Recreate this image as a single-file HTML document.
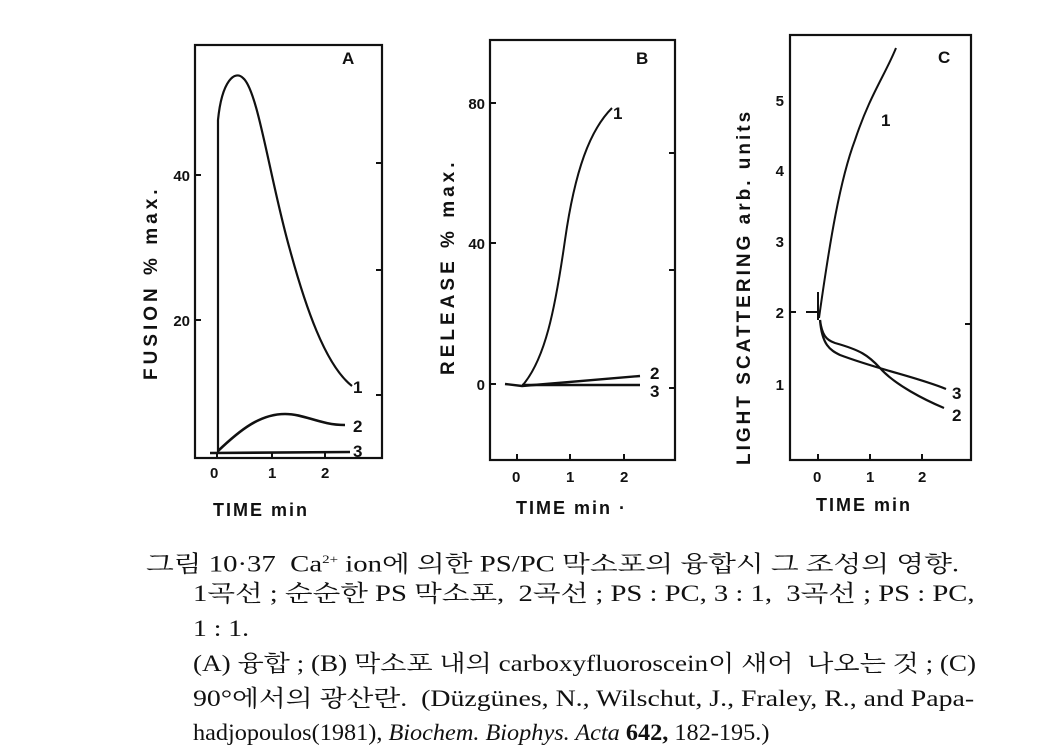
<!DOCTYPE html>
<html><head><meta charset="utf-8"><style>
body{margin:0;background:#fff;width:1055px;height:756px;overflow:hidden;position:relative}
svg{position:absolute;left:0;top:0}
.cap{position:absolute;font-family:"Liberation Serif","Noto Serif CJK SC","Noto Sans CJK KR",serif;font-size:23px;color:#111;white-space:nowrap;line-height:34px;transform-origin:0 0}
</style></head><body>
<svg width="1055" height="540" viewBox="0 0 1055 540" font-family="Liberation Sans, sans-serif" font-weight="bold" fill="none" stroke="#111" stroke-width="2">
<!-- Panel A -->
<rect x="195" y="45" width="187" height="413" stroke-width="2.2"/>
<g stroke-width="2">
<line x1="195" y1="175" x2="201" y2="175"/><line x1="195" y1="320" x2="201" y2="320"/>
<line x1="376" y1="163" x2="382" y2="163"/><line x1="376" y1="270" x2="382" y2="270"/><line x1="376" y1="395" x2="382" y2="395"/>
<line x1="217" y1="452" x2="217" y2="458"/><line x1="272" y1="452" x2="272" y2="458"/><line x1="325" y1="452" x2="325" y2="458"/>
</g>
<path d="M218 453 L218 120 C222 80 235 70 243 78 C258 90 270 180 290 250 C305 305 325 365 352 386" stroke-width="2.2"/>
<path d="M218 451 C240 430 260 414 285 414 C305 414 320 425 345 425" stroke-width="2.6"/>
<path d="M210 453 L350 452" stroke-width="2.6"/>
<g fill="#111" stroke="none" font-size="15">
<text x="210" y="478">0</text><text x="268" y="478">1</text><text x="321" y="478">2</text>
<text x="190" y="181" text-anchor="end">40</text><text x="190" y="326" text-anchor="end">20</text>
<text x="342" y="64" font-size="17">A</text>
<text x="353" y="393" font-size="17">1</text><text x="353" y="432" font-size="17">2</text><text x="353" y="457" font-size="17">3</text>
<text x="213" y="516" font-size="18" letter-spacing="2">TIME  min</text>
<text transform="translate(157,380) rotate(-90)" font-size="19" letter-spacing="4">FUSION    % max.</text>
</g>
<!-- Panel B -->
<rect x="490" y="40" width="185" height="420" stroke-width="2.2"/>
<g>
<line x1="490" y1="103" x2="496" y2="103"/><line x1="490" y1="243" x2="496" y2="243"/><line x1="490" y1="384" x2="496" y2="384"/>
<line x1="669" y1="153" x2="675" y2="153"/><line x1="669" y1="270" x2="675" y2="270"/><line x1="669" y1="388" x2="675" y2="388"/>
<line x1="517" y1="454" x2="517" y2="460"/><line x1="570" y1="454" x2="570" y2="460"/><line x1="624" y1="454" x2="624" y2="460"/>
</g>
<path d="M522 386 C545 360 555 310 565 240 C575 170 590 130 612 108" stroke-width="2"/>
<path d="M505 384 L522 386 L640 376" stroke-width="2.4"/>
<path d="M522 385 L640 385" stroke-width="2.4"/>
<g fill="#111" stroke="none" font-size="15">
<text x="512" y="482">0</text><text x="566" y="482">1</text><text x="620" y="482">2</text>
<text x="485" y="109" text-anchor="end">80</text><text x="485" y="249" text-anchor="end">40</text><text x="485" y="390" text-anchor="end">0</text>
<text x="636" y="64" font-size="17">B</text>
<text x="613" y="119" font-size="17">1</text><text x="650" y="379" font-size="17">2</text><text x="650" y="397" font-size="17">3</text>
<text x="516" y="514" font-size="18" letter-spacing="2">TIME  min ·</text>
<text transform="translate(454,375) rotate(-90)" font-size="19" letter-spacing="4">RELEASE   % max.</text>
</g>
<!-- Panel C -->
<rect x="790" y="35" width="181" height="425" stroke-width="2.2"/>
<g>
<line x1="790" y1="312" x2="796" y2="312"/>
<line x1="818" y1="454" x2="818" y2="460"/><line x1="870" y1="454" x2="870" y2="460"/><line x1="922" y1="454" x2="922" y2="460"/>
<line x1="965" y1="324" x2="971" y2="324"/>
</g>
<path d="M806 312 L818 312 M818 292 L818 320" stroke-width="2"/>
<path d="M819 318 C830 240 840 180 855 140 C870 95 885 75 896 48" stroke-width="2"/>
<path d="M820 320 C822 335 826 340 835 343 C860 350 868 355 880 368 C895 385 925 400 944 408" stroke-width="2.2"/>
<path d="M820 320 C822 345 830 350 840 355 C880 370 920 378 946 389" stroke-width="2.2"/>
<g fill="#111" stroke="none" font-size="15">
<text x="813" y="482">0</text><text x="866" y="482">1</text><text x="918" y="482">2</text>
<text x="784" y="106" text-anchor="end">5</text><text x="784" y="176" text-anchor="end">4</text><text x="784" y="247" text-anchor="end">3</text><text x="784" y="318" text-anchor="end">2</text><text x="784" y="390" text-anchor="end">1</text>
<text x="938" y="63" font-size="17">C</text>
<text x="881" y="126" font-size="17">1</text><text x="952" y="399" font-size="17">3</text><text x="952" y="421" font-size="17">2</text>
<text x="816" y="511" font-size="18" letter-spacing="2">TIME  min</text>
<text transform="translate(750,465) rotate(-90)" font-size="19" letter-spacing="3">LIGHT SCATTERING  arb. units</text>
</g>
</svg>
<div class="cap" style="left:146px;top:542px;transform:scaleX(1.25)">그림 10·37 &nbsp;Ca<sup style="font-size:12px">2+</sup> ion에 의한 PS/PC 막소포의 융합시 그 조성의 영향.</div>
<div class="cap" style="left:193px;top:577px;transform:scaleX(1.245)">1곡선 ; 순순한 PS 막소포, &nbsp;2곡선 ; PS : PC, 3 : 1, &nbsp;3곡선 ; PS : PC,</div>
<div class="cap" style="left:193px;top:612px;transform:scaleX(1.2)">1 : 1.</div>
<div class="cap" style="left:193px;top:647px;transform:scaleX(1.18)">(A) 융합 ; (B) 막소포 내의 carboxyfluoroscein이 새어 &nbsp;나오는 것 ; (C)</div>
<div class="cap" style="left:193px;top:682px;transform:scaleX(1.21)">90°에서의 광산란. &nbsp;(Düzgünes, N., Wilschut, J., Fraley, R., and Papa-</div>
<div class="cap" style="left:193px;top:716px;transform:scaleX(1.055)">hadjopoulos(1981), <i>Biochem. Biophys. Acta</i> <b>642,</b> 182-195.)</div>
</body></html>
